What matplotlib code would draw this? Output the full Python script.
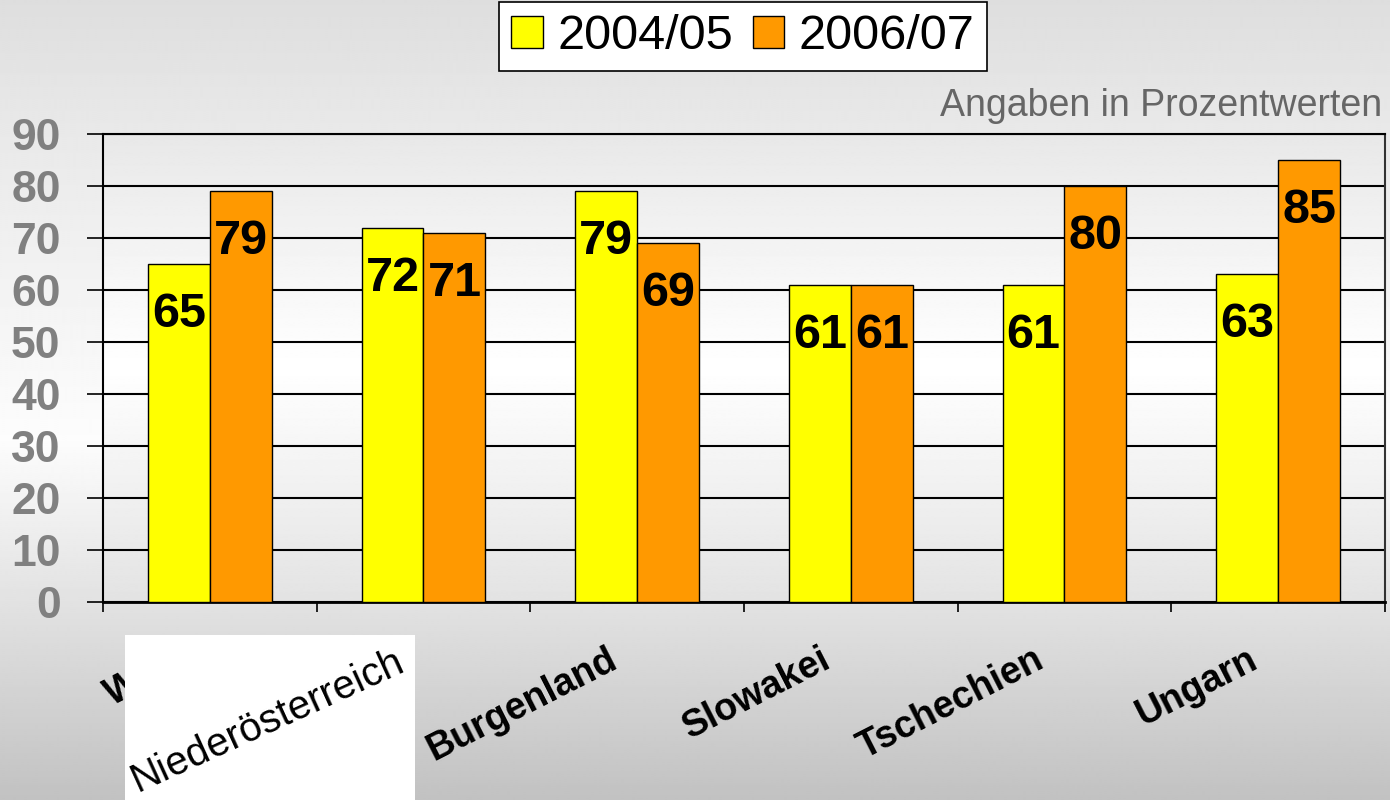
import numpy as np
import matplotlib
matplotlib.use("Agg")
from matplotlib import pyplot as plt
from matplotlib.patches import Rectangle
from matplotlib.transforms import ScaledTranslation

regions = ["Wien", "Niederösterreich", "Burgenland", "Slowakei", "Tschechien", "Ungarn"]
years = ["2004/05", "2006/07"]
share_0405 = [65, 72, 79, 61, 61, 63]
share_0607 = [79, 71, 69, 61, 80, 85]
yticks = [0, 10, 20, 30, 40, 50, 60, 70, 80, 90]

plt.rcParams["font.family"] = ["Liberation Sans", "DejaVu Sans"]

fig = plt.figure(figsize=(13.9, 8), dpi=100)

# grey gradient behind everything
bg = fig.add_axes([0, 0, 1, 1], zorder=-2)
t = np.linspace(0, 1, 400)
shade = np.interp(t, [0, 0.15, 0.55, 1], [0.87, 0.91, 0.99, 0.76])
bg.imshow(np.repeat(shade[:, None], 2, axis=1), cmap="gray", vmin=0, vmax=1,
          aspect="auto", extent=[0, 1, 0, 1], interpolation="bilinear")
bg.axis("off")

ax = fig.add_axes([103 / 1390, 198 / 800, 1282 / 1390, 468 / 800])
ax.set_facecolor("none")
inner = np.interp(t, [0, 0.5, 1], [0.91, 1.0, 0.89])
ax.imshow(np.repeat(inner[:, None], 2, axis=1), cmap="gray", vmin=0, vmax=1,
          aspect="auto", extent=[0, 1, 0, 1], transform=ax.transAxes,
          interpolation="bilinear", zorder=0)

x = np.arange(len(regions))
w = 0.29
b1 = ax.bar(x - w / 2, share_0405, w, color="#ffff00", edgecolor="black", lw=1, zorder=3, label=years[0])
b2 = ax.bar(x + w / 2, share_0607, w, color="#ff9900", edgecolor="black", lw=1, zorder=3, label=years[1])

for bars, vals in ((b1, share_0405), (b2, share_0607)):
    for r, v in zip(bars, vals):
        ax.text(r.get_x() + r.get_width() / 2, v - 9.7, str(v), ha="center", va="center",
                fontsize=35, fontweight="bold", color="black", zorder=4)

ax.set_xlim(-0.5, len(regions) - 0.5)
ax.set_ylim(0, 90)
ax.set_yticks(yticks)
ax.set_yticklabels([str(v) for v in yticks], fontsize=32, fontweight="bold", color="#808080")
ax.tick_params(axis="y", length=11.5, width=1.2, pad=19)
ax.set_xticks(np.arange(len(regions) + 1) - 0.5)
ax.set_xticklabels([])
ax.tick_params(axis="x", length=7.5, width=1.2, direction="out")
ax.grid(axis="y", color="black", lw=1.5, zorder=1)
ax.set_axisbelow(True)
for side in ("top", "left", "right"):
    ax.spines[side].set_linewidth(1.5)
ax.spines["bottom"].set_linewidth(2)
ax.spines["right"].set_color("#333333")

# category names below the axis
shift = ScaledTranslation(-0.18, -0.64, fig.dpi_scale_trans)
for i, name in enumerate(regions):
    if i == 1:
        continue
    ax.text(i, 0, name, transform=ax.get_xaxis_transform() + shift, rotation=27,
            rotation_mode="anchor", ha="right", va="baseline", fontsize=27,
            fontweight="bold", color="black", clip_on=False)

# pasted label on white card
fig.patches.append(Rectangle((125 / 1390, 0), 290 / 1390, 165 / 800, transform=fig.transFigure,
                             facecolor="white", edgecolor="none", zorder=5))
fig.text(138 / 1390, 8 / 800, regions[1], rotation=24.5, rotation_mode="anchor",
         ha="left", va="baseline", fontsize=29, color="black", zorder=6)

fig.text(1382 / 1390, 1 - 106 / 800, "Angaben in Prozentwerten", ha="right", va="center",
         fontsize=27, color="#666666")

leg = fig.legend(loc="upper center", bbox_to_anchor=(743 / 1390, 1 - 2 / 800), ncol=2,
                 fontsize=35, frameon=True, fancybox=False, edgecolor="black",
                 handlelength=0.65, handleheight=0.65, handletextpad=0.3, columnspacing=0.4,
                 borderpad=0.25, borderaxespad=0)
leg.get_frame().set_linewidth(1.2)
leg.get_frame().set_facecolor("white")
leg.get_frame().set_alpha(1)

fig.savefig("out.png", dpi=100)
